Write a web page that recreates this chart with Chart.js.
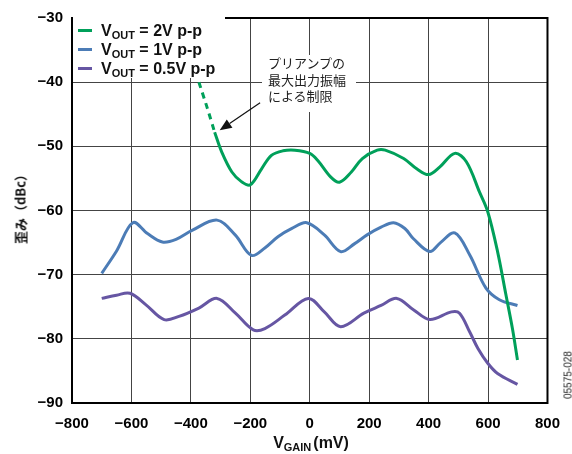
<!DOCTYPE html>
<html>
<head>
<meta charset="utf-8">
<script src="https://cdn.jsdelivr.net/npm/chart.js@4"></script>
<style>
  body { margin: 0; background: #fff; }
  #wrap { position: relative; width: 572px; height: 454px; }
  canvas { position: absolute; left: 0; top: 0; }
  .lab { position: absolute; font-family: "Liberation Sans", Arial, sans-serif; font-weight: bold; color: #111; white-space: nowrap; }
  .lab sub { font-size: 11px; vertical-align: -3px; }
  #legend { position: absolute; left: 73px; top: 17px; width: 152px; height: 61px; background: #fff; }
  .item { position: absolute; left: 0; height: 19px; font-size: 16px; line-height: 19px; }
  .sw { position: absolute; left: 5px; top: 8px; width: 14px; height: 3px; }
  .txt { position: absolute; left: 28px; top: 0; }
  #note { position: absolute; left: 262px; top: 55px; width: 94px; height: 57px; background: #fff;
          font-family: "Noto Sans CJK JP", sans-serif; font-size: 13px; line-height: 16.5px; color: #222; text-align: left; }
  #note div { padding-left: 6px; }
  #ytitle { position: absolute; left: 20px; top: 206px; transform: translate(-50%, -50%) rotate(-90deg);
            font-family: "Noto Sans CJK JP", sans-serif; font-weight: bold; font-size: 13px; color: #111; white-space: nowrap; }
  #xtitle { left: 311px; top: 434px; transform: translateX(-50%); font-size: 16px; }
  #xtitle sub { margin-right: 2px; }
  #code { position: absolute; left: 568px; top: 375px; transform: translate(-50%, -50%) rotate(-90deg);
          font-family: "Liberation Sans", Arial, sans-serif; font-size: 10px; color: #222; white-space: nowrap; }
</style>
</head>
<body>
<div id="wrap">
  <canvas id="chart" width="572" height="454"></canvas>
  <div id="legend"></div>
  <div id="note"><div>プリアンプの</div><div>最大出力振幅</div><div>による制限</div></div>
  <div id="ytitle">歪み（dBc）</div>
  <div id="xtitle" class="lab">V<sub>GAIN</sub>(mV)</div>
  <div id="code">05575-028</div>
</div>
<script>
// V_GAIN (mV) / distortion (dBc)
const green2VX = [-320, -296, -262, -230, -200, -162, -129, -90, -50, 0, 27, 71, 100, 140, 177, 227, 254, 316, 360, 400, 438, 488, 527, 571, 599, 632, 660, 682, 699];
const green2VY = [-47.8, -50.9, -54.0, -55.5, -56.0, -53.5, -51.4, -50.7, -50.6, -51.1, -52.2, -54.8, -55.6, -54.0, -51.9, -50.6, -50.6, -51.9, -53.5, -54.4, -53.2, -51.1, -52.4, -57.1, -60.2, -66.4, -73.1, -78.4, -83.3];
// preamp-limited part (dashed)
const greenDashX = [-373, -345, -320];
const greenDashY = [-40.0, -44.0, -47.8];

const blue1VX = [-700, -650, -595, -546, -496, -450, -396, -312, -251, -196, -150, -107, -60, -10, 49, 104, 150, 193, 240, 282, 320, 349, 404, 440, 488, 538, 593, 638, 699];
const blue1VY = [-69.8, -66.3, -61.9, -63.6, -64.9, -64.5, -63.1, -61.5, -63.8, -67.0, -65.8, -64.1, -62.8, -61.9, -63.8, -66.4, -65.2, -63.8, -62.6, -61.9, -62.8, -64.4, -66.4, -65.0, -63.5, -66.9, -72.1, -73.9, -74.8];

const purple05VX = [-700, -650, -605, -551, -490, -440, -373, -312, -250, -190, -151, -84, -5, 49, 104, 182, 240, 293, 350, 404, 477, 504, 538, 566, 599, 632, 699];
const purple05VY = [-73.7, -73.2, -72.9, -74.7, -77.0, -76.5, -75.2, -73.7, -76.0, -78.6, -78.4, -76.3, -73.7, -75.8, -78.1, -76.0, -74.8, -73.7, -75.5, -77.0, -75.8, -76.0, -78.9, -81.5, -83.8, -85.4, -87.1];

const seriesLabels = ['2V p-p', '1V p-p', '0.5V p-p'];
const xTicks = [-800, -600, -400, -200, 0, 200, 400, 600, 800];
const yTicks = [-90, -80, -70, -60, -50, -40, -30];

// arrow of the note, in data units (tail, head)
const arrowFrom = { x: -167, y: -43.2 };
const arrowTo = { x: -303, y: -47.5 };

const colors = { green: '#00a05a', blue: '#4c7cb6', purple: '#6656a3' };
const fontFam = '"Liberation Sans", Arial, sans-serif';

const pts = (xs, ys) => xs.map((x, i) => ({ x, y: ys[i] }));
const minus = v => v < 0 ? '\u2212' + Math.abs(v) : String(v);

// HTML legend (subscript needs real markup)
const legendColors = [colors.green, colors.blue, colors.purple];
document.getElementById('legend').innerHTML = seriesLabels.map((l, i) => `
  <div class="item lab" style="top:${4 + i * 19}px">
    <span class="sw" style="background:${legendColors[i]}"></span>
    <span class="txt">V<sub>OUT</sub> = ${l}</span>
  </div>`).join('');

const frameAndArrow = {
  id: 'frameAndArrow',
  afterDatasetsDraw(chart) {
    const { ctx, chartArea: a, scales: { x, y } } = chart;
    ctx.save();
    // arrow
    const x1 = x.getPixelForValue(arrowFrom.x), y1 = y.getPixelForValue(arrowFrom.y);
    const x2 = x.getPixelForValue(arrowTo.x), y2 = y.getPixelForValue(arrowTo.y);
    const ang = Math.atan2(y2 - y1, x2 - x1);
    const hl = 12, hw = 5;
    const bx = x2 - hl * Math.cos(ang), by = y2 - hl * Math.sin(ang);
    ctx.strokeStyle = '#111';
    ctx.fillStyle = '#111';
    ctx.lineWidth = 1.2;
    ctx.beginPath();
    ctx.moveTo(x1, y1);
    ctx.lineTo(bx, by);
    ctx.stroke();
    ctx.beginPath();
    ctx.moveTo(x2, y2);
    ctx.lineTo(bx + hw * Math.sin(ang), by - hw * Math.cos(ang));
    ctx.lineTo(bx - hw * Math.sin(ang), by + hw * Math.cos(ang));
    ctx.closePath();
    ctx.fill();
    // frame
    ctx.strokeStyle = '#000';
    ctx.lineWidth = 2;
    ctx.strokeRect(a.left, a.top, a.right - a.left, a.bottom - a.top);
    ctx.restore();
  }
};

const lineStyle = c => ({
  borderColor: c, backgroundColor: c, borderWidth: 3, pointRadius: 0,
  tension: 0.35, fill: false, borderCapStyle: 'butt', borderJoinStyle: 'round'
});

new Chart(document.getElementById('chart'), {
  type: 'line',
  data: {
    datasets: [
      { label: 'VOUT = 2V p-p (limited)', data: pts(greenDashX, greenDashY), ...lineStyle(colors.green), borderDash: [6, 5], tension: 0.2 },
      { label: 'VOUT = 2V p-p', data: pts(green2VX, green2VY), ...lineStyle(colors.green) },
      { label: 'VOUT = 1V p-p', data: pts(blue1VX, blue1VY), ...lineStyle(colors.blue) },
      { label: 'VOUT = 0.5V p-p', data: pts(purple05VX, purple05VY), ...lineStyle(colors.purple) }
    ]
  },
  options: {
    responsive: false,
    animation: false,
    layout: { padding: { top: 16, right: 20, left: 0, bottom: 0 } },
    plugins: { legend: { display: false }, tooltip: { enabled: false } },
    scales: {
      x: {
        type: 'linear', min: -800, max: 800,
        afterBuildTicks: s => { s.ticks = xTicks.map(v => ({ value: v })); },
        afterFit: s => { s.height = 51; },
        grid: { color: '#444', lineWidth: 1, drawTicks: false },
        border: { display: false },
        ticks: { color: '#000', padding: 12, font: { family: fontFam, size: 15, weight: 'bold' }, callback: v => minus(v), maxRotation: 0 }
      },
      y: {
        type: 'linear', min: -90, max: -30,
        afterBuildTicks: s => { s.ticks = yTicks.map(v => ({ value: v })); },
        afterFit: s => { s.width = 72; },
        grid: { color: '#444', lineWidth: 1, drawTicks: false },
        border: { display: false },
        ticks: { color: '#000', padding: 9, font: { family: fontFam, size: 15, weight: 'bold' }, callback: v => minus(v) }
      }
    }
  },
  plugins: [frameAndArrow]
});
</script>
</body>
</html>
